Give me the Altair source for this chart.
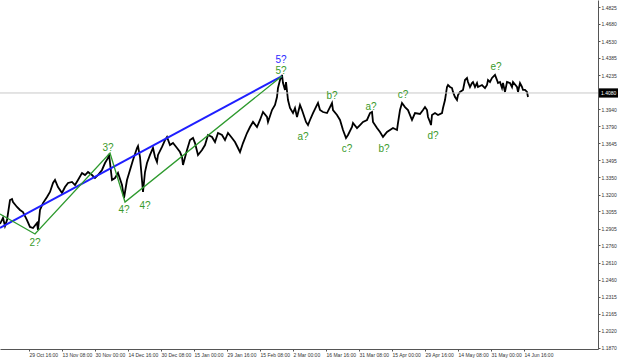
import altair as alt
import pandas as pd

# ---- price path (bar index, price) ----
bar_a = [8,14,18,22,28,32,34,42,48,54,62,68,74,82,84,88,94,102,108,114,118,124,132,138,144,152,158,164,172,178,184,192,198,204,212,218,224,226,232,238,244,252,256,262,268,274,282,284,288,294,298,302,308]
px_a = [1.2945,1.2997,1.2927,1.2979,1.3152,1.3161,1.3135,1.3092,1.3066,1.3048,1.2979,1.2919,1.2910,1.2953,1.2893,1.3066,1.3126,1.3179,1.3222,1.3300,1.3326,1.3265,1.3213,1.3265,1.3300,1.3309,1.3282,1.3326,1.3387,1.3369,1.3395,1.3369,1.3343,1.3369,1.3413,1.3473,1.3517,1.3551,1.3326,1.3343,1.3387,1.3282,1.3170,1.3326,1.3413,1.3499,1.3603,1.3620,1.3525,1.3222,1.3395,1.3473,1.3543]
bar_b = [314,318,322,324,332,338,342,348,354,362,368,372,374,382,388,394,398,404,412,418,424,432,438,444,452,458,464,472,478,484,488,494,502,508,514,522,528,534,542,544,552,558,562,564,568,572,574,578,580,584,588]
px_b = [1.3603,1.3525,1.3482,1.3543,1.3612,1.3672,1.3699,1.3629,1.3646,1.3603,1.3568,1.3525,1.3456,1.3586,1.3672,1.3690,1.3646,1.3543,1.3586,1.3629,1.3716,1.3699,1.3655,1.3733,1.3716,1.3672,1.3733,1.3690,1.3655,1.3603,1.3568,1.3646,1.3733,1.3785,1.3829,1.3785,1.3846,1.3915,1.3872,1.3829,1.3932,1.3976,1.4045,1.4123,1.4192,1.4236,1.4166,1.4106,1.4175,1.4019,1.3950]
bar_c = [594,598,602,608,612,614,620,624,628,634,642,644,648,654,662,668,672,674,682,688,694,700,704,712,714,722,728,734,742,748,752,754,762,768,774,782,788,794,802,804,808,812,818,824,832,838,848]
px_c = [1.3906,1.3950,1.3872,1.3976,1.3932,1.3906,1.3829,1.3802,1.3846,1.3906,1.3976,1.3993,1.3932,1.3915,1.3906,1.3958,1.3993,1.3932,1.3889,1.3846,1.3759,1.3690,1.3716,1.3785,1.3820,1.3776,1.3802,1.3829,1.3846,1.3906,1.3915,1.3829,1.3776,1.3742,1.3699,1.3742,1.3759,1.3776,1.3759,1.3820,1.3932,1.3993,1.3958,1.3932,1.3846,1.3906,1.3898]
bar_d = [854,858,862,864,868,870,872,878,884,892,894,898,902,904,908,912,914,918,922,924,928,934,938,942,944,948,952,954,958,962,964,972,978,982,984,988,992,998,1002,1004,1008,1012,1014,1018,1022,1028,1032,1034,1042,1044,1048,1052,1054,1058,1062,1064]
px_d = [1.3932,1.3958,1.3932,1.3872,1.3829,1.3802,1.3889,1.3906,1.3889,1.3906,1.3950,1.4019,1.4132,1.4149,1.4132,1.4123,1.4089,1.4045,1.4019,1.4062,1.4089,1.4106,1.4192,1.4210,1.4175,1.4132,1.4166,1.4175,1.4132,1.4166,1.4132,1.4149,1.4123,1.4149,1.4192,1.4175,1.4210,1.4236,1.4192,1.4166,1.4175,1.4123,1.4166,1.4089,1.4175,1.4166,1.4132,1.4175,1.4132,1.4089,1.4166,1.4132,1.4106,1.4106,1.4089,1.4045]

# ---- wave lines ----
green_bar = [8, 78, 228, 258, 572]
green_px = [1.3031, 1.2858, 1.3560, 1.3135, 1.4227]
blue_bar = [8, 572]
blue_px = [1.2910, 1.4227]

# ---- wave labels ----
lab_text = ["5?", "5?", "2?", "3?", "4?", "4?", "a?", "b?", "c?", "a?", "b?", "c?", "d?", "e?"]
lab_bar = [570, 570, 78, 224, 256, 298, 614, 672, 702, 750, 776, 814, 874, 1000]
lab_px = [1.4362, 1.4267, 1.2780, 1.3603, 1.3066, 1.3101, 1.3699, 1.4054, 1.3595, 1.3958, 1.3595, 1.4062, 1.3707, 1.4305]
lab_grp = ["blue", "green", "green", "green", "green", "green", "green", "green", "green", "green", "green", "green", "green", "green"]

# ---- axes ----
y_ticks = [1.4825, 1.4680, 1.4530, 1.4385, 1.4235, 1.4090, 1.3940, 1.3790, 1.3645, 1.3495, 1.3350,
           1.3200, 1.3055, 1.2905, 1.2760, 1.2610, 1.2460, 1.2315, 1.2165, 1.2020, 1.1870]
x_labels = ["14 Oct 00:00", "29 Oct 16:00", "13 Nov 08:00", "30 Nov 00:00", "14 Dec 16:00", "30 Dec 08:00",
            "15 Jan 00:00", "29 Jan 16:00", "15 Feb 08:00", "2 Mar 00:00", "16 Mar 16:00", "31 Mar 08:00",
            "15 Apr 00:00", "29 Apr 16:00", "14 May 08:00", "31 May 00:00", "14 Jun 16:00"]
x_step = 66
x_ticks = [i * x_step for i in range(len(x_labels))]
current_price = 1.4080

price_df = pd.DataFrame({"bar": bar_a + bar_b + bar_c + bar_d, "price": px_a + px_b + px_c + px_d})
green_df = pd.DataFrame({"bar": green_bar, "price": green_px})
blue_df = pd.DataFrame({"bar": blue_bar, "price": blue_px})
lab_df = pd.DataFrame({"bar": lab_bar, "price": lab_px, "text": lab_text, "grp": lab_grp})
cur_df = pd.DataFrame({"price": [current_price], "label": [f"{current_price:.4f}"]})

label_arr = "[" + ",".join(f"'{s}'" for s in x_labels) + "]"

x_scale = alt.Scale(domain=[8, 1204], nice=False, zero=False)
y_scale = alt.Scale(domain=[1.18613, 1.48857], nice=False, zero=False)

x_axis = alt.Axis(values=x_ticks, labelExpr=f"{label_arr}[round(datum.value/{x_step})]",
                  labelAlign="left", labelBaseline="top", labelPadding=1, tickSize=2,
                  labelFontSize=5, labelColor="#333333", labelFont="Liberation Sans",
                  domainColor="#555555", tickColor="#555555", grid=False, title=None,
                  labelOverlap=False, labelFlush=False, labelBound=False, labelSeparation=0)
y_axis = alt.Axis(orient="right", values=y_ticks, format=".4f", labelPadding=1, tickSize=2,
                  labelFontSize=5, labelColor="#333333", labelFont="Liberation Sans",
                  domainColor="#555555", tickColor="#555555", grid=False, title=None,
                  labelOverlap=False, labelFlush=False, labelSeparation=0)

X = alt.X("bar:Q", scale=x_scale, axis=x_axis)
Y = alt.Y("price:Q", scale=y_scale, axis=y_axis)

cur_line = alt.Chart(cur_df).mark_rule(color="#c8c8c8", strokeWidth=1).encode(y=Y)

price_line = alt.Chart(price_df).mark_line(color="#000000", strokeWidth=1.8, interpolate="linear").encode(x=X, y=Y)

green_line = alt.Chart(green_df).mark_line(color="#2e9a2e", strokeWidth=1.3).encode(x=X, y=Y)
blue_line = alt.Chart(blue_df).mark_line(color="#1f1fff", strokeWidth=2).encode(x=X, y=Y)

labels = alt.Chart(lab_df).mark_text(font="Liberation Sans", fontSize=10, align="center", baseline="middle").encode(
    x=X, y=Y, text="text:N",
    color=alt.Color("grp:N", scale=alt.Scale(domain=["blue", "green"], range=["#2a2aff", "#3a9a2a"]), legend=None))

box = alt.Chart(cur_df).transform_calculate(
    top="datum.price + 0.0040", bot="datum.price - 0.0040"
).mark_rect(color="#000000", clip=False).encode(
    x=alt.value(599), x2=alt.value(618),
    y=alt.Y("top:Q", scale=y_scale, axis=y_axis), y2=alt.Y2("bot:Q"))
box_text = alt.Chart(cur_df).mark_text(color="#ffffff", fontSize=5, font="Liberation Sans", align="left",
                                       baseline="middle", clip=False).encode(
    x=alt.value(601), y=Y, text="label:N")

chart = alt.layer(price_line, cur_line, blue_line, green_line, labels, box, box_text).properties(
    width=598, height=349,
    autosize=alt.AutoSizeParams(type="none"),
    padding={"left": 0, "top": 0, "right": 22, "bottom": 12},
    background="#ffffff",
).configure_view(stroke=None).configure_axis(labelOverlap=False, labelSeparation=0)

chart.save("out.html", embed_options={"renderer": "svg", "actions": False})
